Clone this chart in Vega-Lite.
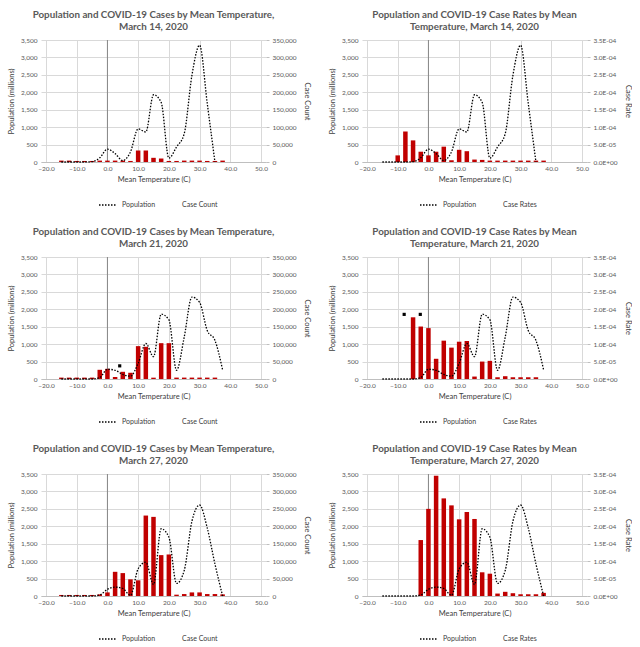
{
  "$schema": "https://vega.github.io/schema/vega-lite/v6.json",
  "padding": {"left": 7, "top": 10, "right": 0, "bottom": 0},
  "background": "white",
  "config": {
    "font": "Lato",
    "view": {"stroke": null},
    "title": {"font": "Lato", "fontSize": 9.8, "fontWeight": "bold", "color": "#595959", "anchor": "middle", "lineHeight": 12, "offset": 5},
    "axis": {"labelFont": "Lato", "labelFontSize": 6.5, "labelColor": "#595959", "titleFont": "Lato", "titleFontSize": 7.5, "titleFontWeight": "normal", "titleColor": "#404040", "gridColor": "#d9d9d9", "domainColor": "#bfbfbf", "tickColor": "#bfbfbf"},
    "legend": {"labelFont": "Lato", "labelFontSize": 7, "labelColor": "#404040"}
  },
  "datasets": {
    "m14": [
      {"t": -15, "pop": 0, "count": 4000, "rate": 0},
      {"t": -12.5, "pop": 0, "count": 4000, "rate": 0},
      {"t": -10, "pop": 0, "count": 3000, "rate": 0.000019},
      {"t": -7.5, "pop": 0, "count": 3000, "rate": 0.0000875},
      {"t": -5, "pop": 10, "count": 3000, "rate": 0.000062},
      {"t": -2.5, "pop": 120, "count": 4000, "rate": 0.0000295},
      {"t": 0, "pop": 370, "count": 4000, "rate": 0.000019},
      {"t": 2.5, "pop": 240, "count": 4000, "rate": 0.0000295},
      {"t": 5, "pop": 40, "count": 4000, "rate": 0.000044},
      {"t": 7.5, "pop": 290, "count": 3000, "rate": 0.000005},
      {"t": 10, "pop": 950, "count": 33000, "rate": 0.000035},
      {"t": 12.5, "pop": 860, "count": 33000, "rate": 0.000031},
      {"t": 15, "pop": 1930, "count": 12000, "rate": 0.000007},
      {"t": 17.5, "pop": 1710, "count": 10000, "rate": 0.000006},
      {"t": 20, "pop": 110, "count": 3000, "rate": 0.000004},
      {"t": 22.5, "pop": 430, "count": 3000, "rate": 0.000004},
      {"t": 25, "pop": 810, "count": 4000, "rate": 0.000004},
      {"t": 27.5, "pop": 2480, "count": 4000, "rate": 0.000004},
      {"t": 30, "pop": 3350, "count": 4000, "rate": 0.000004},
      {"t": 32.5, "pop": 1680, "count": 3000, "rate": 0.000004},
      {"t": 35, "pop": 0, "count": 3000, "rate": 0.000004},
      {"t": 37.5, "pop": null, "count": 4000, "rate": 0.000004}
    ],
    "m21": [
      {"t": -15, "pop": 0, "count": 4000, "rate": 0},
      {"t": -12.5, "pop": 0, "count": 4000, "rate": 0},
      {"t": -10, "pop": 0, "count": 4000, "rate": 0},
      {"t": -7.5, "pop": 0, "count": 4000, "rate": 0},
      {"t": -5, "pop": 0, "count": 4000, "rate": 0.000177},
      {"t": -2.5, "pop": 40, "count": 26400, "rate": 0.0001505},
      {"t": 0, "pop": 280, "count": 29200, "rate": 0.000146},
      {"t": 2.5, "pop": 250, "count": 5700, "rate": 0.000058},
      {"t": 5, "pop": 130, "count": 20700, "rate": 0.00011},
      {"t": 7.5, "pop": 80, "count": 17900, "rate": 0.00009},
      {"t": 10, "pop": 450, "count": 94300, "rate": 0.000107},
      {"t": 12.5, "pop": 1020, "count": 92400, "rate": 0.000109},
      {"t": 15, "pop": 640, "count": 3800, "rate": 0.000007},
      {"t": 17.5, "pop": 1860, "count": 102800, "rate": 0.00005},
      {"t": 20, "pop": 1700, "count": 102800, "rate": 0.000052},
      {"t": 22.5, "pop": 250, "count": 4000, "rate": 0.000005},
      {"t": 25, "pop": 1200, "count": 4000, "rate": 0.000008},
      {"t": 27.5, "pop": 2350, "count": 4000, "rate": 0.000005},
      {"t": 30, "pop": 2200, "count": 4000, "rate": 0.000005},
      {"t": 32.5, "pop": 1390, "count": 4000, "rate": 0.000005},
      {"t": 35, "pop": 1110, "count": 4000, "rate": 0.000005},
      {"t": 37.5, "pop": 260, "count": null, "rate": null}
    ],
    "m27": [
      {"t": -15, "pop": 0, "count": 3000, "rate": 0},
      {"t": -12.5, "pop": 0, "count": 3000, "rate": 0},
      {"t": -10, "pop": 0, "count": 3000, "rate": 0},
      {"t": -7.5, "pop": 0, "count": 3000, "rate": 0},
      {"t": -5, "pop": 0, "count": 3000, "rate": 0},
      {"t": -2.5, "pop": 30, "count": 4700, "rate": 0.0001605},
      {"t": 0, "pop": 190, "count": 10300, "rate": 0.00025},
      {"t": 2.5, "pop": 255, "count": 69400, "rate": 0.000345},
      {"t": 5, "pop": 215, "count": 65700, "rate": 0.00028},
      {"t": 7.5, "pop": 20, "count": 47800, "rate": 0.00026},
      {"t": 10, "pop": 780, "count": 45000, "rate": 0.00022},
      {"t": 12.5, "pop": 970, "count": 230800, "rate": 0.000241},
      {"t": 15, "pop": 330, "count": 227000, "rate": 0.000221},
      {"t": 17.5, "pop": 1930, "count": 117300, "rate": 0.000068},
      {"t": 20, "pop": 1690, "count": 119100, "rate": 0.000064},
      {"t": 22.5, "pop": 360, "count": 3800, "rate": 0.000007},
      {"t": 25, "pop": 730, "count": 5600, "rate": 0.000012},
      {"t": 27.5, "pop": 2140, "count": 10300, "rate": 0.000008},
      {"t": 30, "pop": 2610, "count": 10300, "rate": 0.000005},
      {"t": 32.5, "pop": 1950, "count": 5600, "rate": 0.000005},
      {"t": 35, "pop": 920, "count": 5600, "rate": 0.000005},
      {"t": 37.5, "pop": 0, "count": 4700, "rate": 0.000009}
    ],
    "axis0": [{"t": 0}],
    "sq21c": [{"t": 4, "pop": 377}],
    "sq21r": [{"t": -7.9, "pop": 1854}, {"t": -2.65, "pop": 1854}]
  },
  "resolve": {"scale": {"x": "independent", "y": "independent", "color": "independent"}, "axis": {"x": "independent", "y": "independent"}, "legend": {"color": "independent"}},
  "spacing": 19,
  "vconcat": [
    {
      "resolve": {"scale": {"x": "independent", "y": "independent", "color": "independent"}, "axis": {"x": "independent", "y": "independent"}, "legend": {"color": "independent"}},
      "spacing": 17,
      "hconcat": [
        {
          "width": 225, "height": 122,
          "title": {"text": ["Population and COVID-19 Cases by Mean Temperature,", "March 14, 2020"]},
          "data": {"name": "m14"},
          "encoding": {"x": {"field": "t", "type": "quantitative", "title": "Mean Temperature (C)", "scale": {"domain": [-20, 50], "nice": false, "zero": false}, "axis": {"values": [-20, -10, 0, 10, 20, 30, 40, 50], "format": ".1f", "grid": true, "ticks": false, "labelPadding": 3, "titlePadding": 4}}},
          "layer": [
            {"data": {"name": "axis0"}, "mark": {"type": "rule", "color": "#868686", "strokeWidth": 1}, "encoding": {}},
            {"mark": {"type": "bar", "color": "#C00000", "width": 4.5}, "encoding": {"y": {"field": "count", "type": "quantitative", "scale": {"domain": [0, 350000], "nice": false}, "axis": {"orient": "right", "values": [0, 50000, 100000, 150000, 200000, 250000, 300000, 350000], "format": ",.0f", "title": "Case Count", "grid": false, "domain": false, "ticks": true, "tickSize": 3, "labelPadding": 3, "titlePadding": 6}}}},
            {"encoding": {"y": {"field": "pop", "type": "quantitative", "scale": {"domain": [0, 3500], "nice": false}, "axis": {"orient": "left", "values": [0, 500, 1000, 1500, 2000, 2500, 3000, 3500], "format": ",.0f", "title": "Population (millions)", "grid": true, "domain": false, "ticks": false, "labelPadding": 4, "titlePadding": 5}}},
             "layer": [
              {"transform": [{"filter": "isValid(datum.pop)"}], "mark": {"type": "line", "strokeDash": [1.5, 1.5], "strokeWidth": 1.3, "interpolate": "monotone"}, "encoding": {"color": {"datum": "Population", "type": "nominal", "scale": {"domain": ["Population", "Case Count"], "range": ["#000000", "transparent"]}, "legend": {"title": null, "orient": "none", "legendX": 57, "legendY": 155, "direction": "horizontal", "symbolType": "stroke", "symbolDash": [1.5, 1.5], "symbolStrokeWidth": 1.3, "symbolSize": 324, "columnPadding": 0}}}}
             ]}
          ],
          "resolve": {"scale": {"y": "independent"}}
        },
        {
          "width": 225, "height": 122,
          "title": {"text": ["Population and COVID-19 Case Rates by Mean", "Temperature, March 14, 2020"]},
          "data": {"name": "m14"},
          "encoding": {"x": {"field": "t", "type": "quantitative", "title": "Mean Temperature (C)", "scale": {"domain": [-20, 50], "nice": false, "zero": false}, "axis": {"values": [-20, -10, 0, 10, 20, 30, 40, 50], "format": ".1f", "grid": true, "ticks": false, "labelPadding": 3, "titlePadding": 4}}},
          "layer": [
            {"data": {"name": "axis0"}, "mark": {"type": "rule", "color": "#868686", "strokeWidth": 1}, "encoding": {}},
            {"mark": {"type": "bar", "color": "#C00000", "width": 4.5}, "encoding": {"y": {"field": "rate", "type": "quantitative", "scale": {"domain": [0, 0.00035], "nice": false}, "axis": {"orient": "right", "values": [0, 0.00005, 0.0001, 0.00015, 0.0002, 0.00025, 0.0003, 0.00035], "labelExpr": "replace(replace(format(datum.value, '.1e'), 'e-', 'E-0'), 'e+', 'E+0')", "title": "Case Rate", "grid": false, "domain": false, "ticks": true, "tickSize": 3, "labelPadding": 3, "titlePadding": 6}}}},
            {"encoding": {"y": {"field": "pop", "type": "quantitative", "scale": {"domain": [0, 3500], "nice": false}, "axis": {"orient": "left", "values": [0, 500, 1000, 1500, 2000, 2500, 3000, 3500], "format": ",.0f", "title": "Population (millions)", "grid": true, "domain": false, "ticks": false, "labelPadding": 4, "titlePadding": 5}}},
             "layer": [
              {"transform": [{"filter": "isValid(datum.pop)"}], "mark": {"type": "line", "strokeDash": [1.5, 1.5], "strokeWidth": 1.3, "interpolate": "monotone"}, "encoding": {"color": {"datum": "Population", "type": "nominal", "scale": {"domain": ["Population", "Case Rates"], "range": ["#000000", "transparent"]}, "legend": {"title": null, "orient": "none", "legendX": 57, "legendY": 155, "direction": "horizontal", "symbolType": "stroke", "symbolDash": [1.5, 1.5], "symbolStrokeWidth": 1.3, "symbolSize": 324, "columnPadding": 0}}}}
             ]}
          ],
          "resolve": {"scale": {"y": "independent"}}
        }
      ]
    },
    {
      "resolve": {"scale": {"x": "independent", "y": "independent", "color": "independent"}, "axis": {"x": "independent", "y": "independent"}, "legend": {"color": "independent"}},
      "spacing": 17,
      "hconcat": [
        {
          "width": 225, "height": 122,
          "title": {"text": ["Population and COVID-19 Cases by Mean Temperature,", "March 21, 2020"]},
          "data": {"name": "m21"},
          "encoding": {"x": {"field": "t", "type": "quantitative", "title": "Mean Temperature (C)", "scale": {"domain": [-20, 50], "nice": false, "zero": false}, "axis": {"values": [-20, -10, 0, 10, 20, 30, 40, 50], "format": ".1f", "grid": true, "ticks": false, "labelPadding": 3, "titlePadding": 4}}},
          "layer": [
            {"data": {"name": "axis0"}, "mark": {"type": "rule", "color": "#868686", "strokeWidth": 1}, "encoding": {}},
            {"mark": {"type": "bar", "color": "#C00000", "width": 4.5}, "encoding": {"y": {"field": "count", "type": "quantitative", "scale": {"domain": [0, 350000], "nice": false}, "axis": {"orient": "right", "values": [0, 50000, 100000, 150000, 200000, 250000, 300000, 350000], "format": ",.0f", "title": "Case Count", "grid": false, "domain": false, "ticks": true, "tickSize": 3, "labelPadding": 3, "titlePadding": 6}}}},
            {"encoding": {"y": {"field": "pop", "type": "quantitative", "scale": {"domain": [0, 3500], "nice": false}, "axis": {"orient": "left", "values": [0, 500, 1000, 1500, 2000, 2500, 3000, 3500], "format": ",.0f", "title": "Population (millions)", "grid": true, "domain": false, "ticks": false, "labelPadding": 4, "titlePadding": 5}}},
             "layer": [
              {"transform": [{"filter": "isValid(datum.pop)"}], "mark": {"type": "line", "strokeDash": [1.5, 1.5], "strokeWidth": 1.3, "interpolate": "monotone"}, "encoding": {"color": {"datum": "Population", "type": "nominal", "scale": {"domain": ["Population", "Case Count"], "range": ["#000000", "transparent"]}, "legend": {"title": null, "orient": "none", "legendX": 57, "legendY": 155, "direction": "horizontal", "symbolType": "stroke", "symbolDash": [1.5, 1.5], "symbolStrokeWidth": 1.3, "symbolSize": 324, "columnPadding": 0}}}},
              {"data": {"name": "sq21c"}, "mark": {"type": "square", "color": "#000000", "size": 10, "opacity": 1}}
             ]}
          ],
          "resolve": {"scale": {"y": "independent"}}
        },
        {
          "width": 225, "height": 122,
          "title": {"text": ["Population and COVID-19 Case Rates by Mean", "Temperature, March 21, 2020"]},
          "data": {"name": "m21"},
          "encoding": {"x": {"field": "t", "type": "quantitative", "title": "Mean Temperature (C)", "scale": {"domain": [-20, 50], "nice": false, "zero": false}, "axis": {"values": [-20, -10, 0, 10, 20, 30, 40, 50], "format": ".1f", "grid": true, "ticks": false, "labelPadding": 3, "titlePadding": 4}}},
          "layer": [
            {"data": {"name": "axis0"}, "mark": {"type": "rule", "color": "#868686", "strokeWidth": 1}, "encoding": {}},
            {"mark": {"type": "bar", "color": "#C00000", "width": 4.5}, "encoding": {"y": {"field": "rate", "type": "quantitative", "scale": {"domain": [0, 0.00035], "nice": false}, "axis": {"orient": "right", "values": [0, 0.00005, 0.0001, 0.00015, 0.0002, 0.00025, 0.0003, 0.00035], "labelExpr": "replace(replace(format(datum.value, '.1e'), 'e-', 'E-0'), 'e+', 'E+0')", "title": "Case Rate", "grid": false, "domain": false, "ticks": true, "tickSize": 3, "labelPadding": 3, "titlePadding": 6}}}},
            {"encoding": {"y": {"field": "pop", "type": "quantitative", "scale": {"domain": [0, 3500], "nice": false}, "axis": {"orient": "left", "values": [0, 500, 1000, 1500, 2000, 2500, 3000, 3500], "format": ",.0f", "title": "Population (millions)", "grid": true, "domain": false, "ticks": false, "labelPadding": 4, "titlePadding": 5}}},
             "layer": [
              {"transform": [{"filter": "isValid(datum.pop)"}], "mark": {"type": "line", "strokeDash": [1.5, 1.5], "strokeWidth": 1.3, "interpolate": "monotone"}, "encoding": {"color": {"datum": "Population", "type": "nominal", "scale": {"domain": ["Population", "Case Rates"], "range": ["#000000", "transparent"]}, "legend": {"title": null, "orient": "none", "legendX": 57, "legendY": 155, "direction": "horizontal", "symbolType": "stroke", "symbolDash": [1.5, 1.5], "symbolStrokeWidth": 1.3, "symbolSize": 324, "columnPadding": 0}}}},
              {"data": {"name": "sq21r"}, "mark": {"type": "square", "color": "#000000", "size": 10, "opacity": 1}}
             ]}
          ],
          "resolve": {"scale": {"y": "independent"}}
        }
      ]
    },
    {
      "resolve": {"scale": {"x": "independent", "y": "independent", "color": "independent"}, "axis": {"x": "independent", "y": "independent"}, "legend": {"color": "independent"}},
      "spacing": 17,
      "hconcat": [
        {
          "width": 225, "height": 122,
          "title": {"text": ["Population and COVID-19 Cases by Mean Temperature,", "March 27, 2020"]},
          "data": {"name": "m27"},
          "encoding": {"x": {"field": "t", "type": "quantitative", "title": "Mean Temperature (C)", "scale": {"domain": [-20, 50], "nice": false, "zero": false}, "axis": {"values": [-20, -10, 0, 10, 20, 30, 40, 50], "format": ".1f", "grid": true, "ticks": false, "labelPadding": 3, "titlePadding": 4}}},
          "layer": [
            {"data": {"name": "axis0"}, "mark": {"type": "rule", "color": "#868686", "strokeWidth": 1}, "encoding": {}},
            {"mark": {"type": "bar", "color": "#C00000", "width": 4.5}, "encoding": {"y": {"field": "count", "type": "quantitative", "scale": {"domain": [0, 350000], "nice": false}, "axis": {"orient": "right", "values": [0, 50000, 100000, 150000, 200000, 250000, 300000, 350000], "format": ",.0f", "title": "Case Count", "grid": false, "domain": false, "ticks": true, "tickSize": 3, "labelPadding": 3, "titlePadding": 6}}}},
            {"encoding": {"y": {"field": "pop", "type": "quantitative", "scale": {"domain": [0, 3500], "nice": false}, "axis": {"orient": "left", "values": [0, 500, 1000, 1500, 2000, 2500, 3000, 3500], "format": ",.0f", "title": "Population (millions)", "grid": true, "domain": false, "ticks": false, "labelPadding": 4, "titlePadding": 5}}},
             "layer": [
              {"transform": [{"filter": "isValid(datum.pop)"}], "mark": {"type": "line", "strokeDash": [1.5, 1.5], "strokeWidth": 1.3, "interpolate": "monotone"}, "encoding": {"color": {"datum": "Population", "type": "nominal", "scale": {"domain": ["Population", "Case Count"], "range": ["#000000", "transparent"]}, "legend": {"title": null, "orient": "none", "legendX": 57, "legendY": 155, "direction": "horizontal", "symbolType": "stroke", "symbolDash": [1.5, 1.5], "symbolStrokeWidth": 1.3, "symbolSize": 324, "columnPadding": 0}}}}
             ]}
          ],
          "resolve": {"scale": {"y": "independent"}}
        },
        {
          "width": 225, "height": 122,
          "title": {"text": ["Population and COVID-19 Case Rates by Mean", "Temperature, March 27, 2020"]},
          "data": {"name": "m27"},
          "encoding": {"x": {"field": "t", "type": "quantitative", "title": "Mean Temperature (C)", "scale": {"domain": [-20, 50], "nice": false, "zero": false}, "axis": {"values": [-20, -10, 0, 10, 20, 30, 40, 50], "format": ".1f", "grid": true, "ticks": false, "labelPadding": 3, "titlePadding": 4}}},
          "layer": [
            {"data": {"name": "axis0"}, "mark": {"type": "rule", "color": "#868686", "strokeWidth": 1}, "encoding": {}},
            {"mark": {"type": "bar", "color": "#C00000", "width": 4.5}, "encoding": {"y": {"field": "rate", "type": "quantitative", "scale": {"domain": [0, 0.00035], "nice": false}, "axis": {"orient": "right", "values": [0, 0.00005, 0.0001, 0.00015, 0.0002, 0.00025, 0.0003, 0.00035], "labelExpr": "replace(replace(format(datum.value, '.1e'), 'e-', 'E-0'), 'e+', 'E+0')", "title": "Case Rate", "grid": false, "domain": false, "ticks": true, "tickSize": 3, "labelPadding": 3, "titlePadding": 6}}}},
            {"encoding": {"y": {"field": "pop", "type": "quantitative", "scale": {"domain": [0, 3500], "nice": false}, "axis": {"orient": "left", "values": [0, 500, 1000, 1500, 2000, 2500, 3000, 3500], "format": ",.0f", "title": "Population (millions)", "grid": true, "domain": false, "ticks": false, "labelPadding": 4, "titlePadding": 5}}},
             "layer": [
              {"transform": [{"filter": "isValid(datum.pop)"}], "mark": {"type": "line", "strokeDash": [1.5, 1.5], "strokeWidth": 1.3, "interpolate": "monotone"}, "encoding": {"color": {"datum": "Population", "type": "nominal", "scale": {"domain": ["Population", "Case Rates"], "range": ["#000000", "transparent"]}, "legend": {"title": null, "orient": "none", "legendX": 57, "legendY": 155, "direction": "horizontal", "symbolType": "stroke", "symbolDash": [1.5, 1.5], "symbolStrokeWidth": 1.3, "symbolSize": 324, "columnPadding": 0}}}}
             ]}
          ],
          "resolve": {"scale": {"y": "independent"}}
        }
      ]
    }
  ]
}
